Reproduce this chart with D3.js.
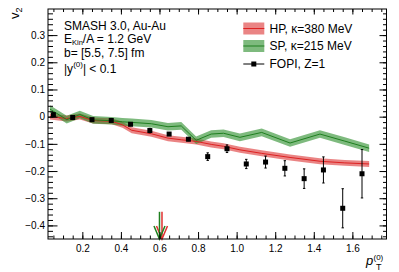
<!DOCTYPE html>
<html>
<head>
<meta charset="utf-8">
<script src="https://cdn.jsdelivr.net/npm/d3@7"></script>
<style>
  body { margin: 0; background: #fff; }
  text { font-family: "Liberation Sans", Arial, sans-serif; fill: #000; }
</style>
</head>
<body>
<div id="chart"></div>
<script>
// FOPI data points (Z=1)
var fopiPt = [0.05, 0.15, 0.25, 0.35, 0.45, 0.55, 0.65, 0.75, 0.85, 0.95, 1.05, 1.15, 1.25, 1.35, 1.45, 1.55, 1.65];
var fopiV2 = [0.007, -0.003, -0.011, -0.014, -0.028, -0.051, -0.064, -0.083, -0.147, -0.118, -0.174, -0.167, -0.19, -0.228, -0.196, -0.337, -0.21];
var fopiErr = [0.008, 0.005, 0.004, 0.004, 0.005, 0.008, 0.005, 0.006, 0.014, 0.014, 0.017, 0.022, 0.028, 0.036, 0.048, 0.072, 0.089];

// SMASH bands
var bandPt = [0.032, 0.119, 0.187, 0.256, 0.352, 0.408, 0.456, 0.558, 0.644, 0.713, 0.79, 0.868, 0.932, 1.017, 1.13, 1.277, 1.432, 1.561, 1.687];
var hpV2 = [0.001, -0.007, 0.001, -0.014, -0.017, -0.03, -0.05, -0.063, -0.079, -0.085, -0.091, -0.102, -0.109, -0.122, -0.135, -0.15, -0.164, -0.17, -0.174];
var spV2 = [0.028, -0.011, 0.008, -0.012, -0.015, -0.019, -0.021, -0.026, -0.037, -0.034, -0.087, -0.064, -0.061, -0.076, -0.058, -0.097, -0.064, -0.09, -0.116];
var hpErr = 0.011, spErr = 0.014;

// mean pT arrows
var arrowPt = {hp: 0.613, sp: 0.6};

var yMajor = [-0.4, -0.3, -0.2, -0.1, 0, 0.1, 0.2, 0.3];
var xMajor = [0.2, 0.4, 0.6, 0.8, 1, 1.2, 1.4, 1.6];

var W = 399, H = 272;
var margin = {top: 9, right: 12.5, bottom: 33, left: 48};
var width = W - margin.left - margin.right,
    height = H - margin.top - margin.bottom;

var svg = d3.select("#chart").append("svg")
  .attr("width", W).attr("height", H);
var g = svg.append("g")
  .attr("transform", "translate(" + margin.left + "," + margin.top + ")");

var x = d3.scaleLinear().domain([0.022, 1.777]).range([0, width]);
var y = d3.scaleLinear().domain([-0.45, 0.396]).range([height, 0]);

var redLine = "#dd2222", redFill = "rgba(220,50,50,0.6)";
var greenLine = "#1f7f1f", greenFill = "rgba(40,140,40,0.6)";

// bands
function drawBand(vals, err, fill) {
  var pts = bandPt.map(function (p, i) { return {p: p, v: vals[i]}; });
  g.append("path").datum(pts)
    .attr("d", d3.area()
      .x(function (d) { return x(d.p); })
      .y0(function (d) { return y(d.v - err); })
      .y1(function (d) { return y(d.v + err); }))
    .attr("fill", fill).attr("stroke", "none");
  return pts;
}
var hpPts = drawBand(hpV2, hpErr, redFill);
var spPts = drawBand(spV2, spErr, greenFill);

var line = d3.line().x(function (d) { return x(d.p); }).y(function (d) { return y(d.v); });
g.append("path").datum(hpPts).attr("d", line)
  .attr("fill", "none").attr("stroke", redLine).attr("stroke-width", 1);
g.append("path").datum(spPts).attr("d", line)
  .attr("fill", "none").attr("stroke", greenLine).attr("stroke-width", 1);

// FOPI points with error bars
var fopi = fopiPt.map(function (p, i) { return {p: p, v: fopiV2[i], e: fopiErr[i]}; });
var pts = g.selectAll(".fopi").data(fopi).enter().append("g").attr("class", "fopi");
pts.append("line")
  .attr("x1", function (d) { return x(d.p); }).attr("x2", function (d) { return x(d.p); })
  .attr("y1", function (d) { return y(d.v - d.e); }).attr("y2", function (d) { return y(d.v + d.e); })
  .attr("stroke", "#000").attr("stroke-width", 1);
[-1, 1].forEach(function (s) {
  pts.append("line")
    .attr("x1", function (d) { return x(d.p) - 1.2; }).attr("x2", function (d) { return x(d.p) + 1.2; })
    .attr("y1", function (d) { return y(d.v + s * d.e); }).attr("y2", function (d) { return y(d.v + s * d.e); })
    .attr("stroke", "#000").attr("stroke-width", 1);
});
pts.append("rect")
  .attr("x", function (d) { return x(d.p) - 2.5; }).attr("y", function (d) { return y(d.v) - 2.5; })
  .attr("width", 5).attr("height", 5).attr("fill", "#000");

// arrows
function drawArrow(p, col) {
  var ax = x(p), yb = y(-0.45), yt = y(-0.35);
  g.append("line").attr("x1", ax).attr("x2", ax).attr("y1", yt).attr("y2", yb)
    .attr("stroke", col).attr("stroke-width", 1.5);
  g.append("path")
    .attr("d", "M" + (ax - 5.5) + "," + (yb - 13) + "L" + ax + "," + yb + "L" + (ax + 5.5) + "," + (yb - 13))
    .attr("fill", "none").attr("stroke", col).attr("stroke-width", 1.5);
}
drawArrow(arrowPt.hp, "#e03030");
drawArrow(arrowPt.sp, "#1f7f1f");

// axes
function fmt(d) { return d === 0 ? "0" : d3.format(".1f")(d); }
var yMinor = d3.range(-44, 40, 2).map(function (d) { return d / 100; });
var xMinor = d3.range(1, 36).map(function (d) { return d * 0.05; });

function ticks(axis, vals, len, fmtFn) {
  var a = g.append("g");
  axis === "left" && a.call(d3.axisLeft(y).tickValues(vals).tickSize(-len).tickSizeOuter(0).tickPadding(3).tickFormat(fmtFn || ""));
  axis === "right" && a.attr("transform", "translate(" + width + ",0)").call(d3.axisRight(y).tickValues(vals).tickSize(-len).tickSizeOuter(0).tickFormat(""));
  axis === "bottom" && a.attr("transform", "translate(0," + height + ")").call(d3.axisBottom(x).tickValues(vals).tickSize(-len).tickSizeOuter(0).tickPadding(6).tickFormat(fmtFn || ""));
  axis === "top" && a.call(d3.axisTop(x).tickValues(vals).tickSize(-len).tickSizeOuter(0).tickFormat(""));
  a.select(".domain").remove();
  a.selectAll("line").attr("stroke", "#000");
  a.selectAll("text").style("font-size", "10px").style("font-family", "'Liberation Sans', Arial, sans-serif").attr("fill", "#000");
  return a;
}
ticks("left", yMinor, 5);
ticks("left", yMajor, 9.5, fmt);
ticks("right", yMinor, 3.5);
ticks("right", yMajor, 7);
ticks("bottom", xMinor.filter(function (d) { return d < 1.77; }), 3.5);
ticks("bottom", xMajor, 7, fmt);
ticks("top", xMinor.filter(function (d) { return d < 1.77; }), 3);
ticks("top", xMajor, 5.5);

g.append("rect").attr("width", width).attr("height", height)
  .attr("fill", "none").attr("stroke", "#000").attr("stroke-width", 1);

// axis titles
var yl = svg.append("text").attr("transform", "translate(19,19) rotate(-90)")
  .style("font-size", "13px");
yl.append("tspan").text("v");
yl.append("tspan").text("2").style("font-size", "9px").attr("dy", 3);

svg.append("text").attr("x", 366).attr("y", 265).style("font-size", "13px")
  .style("font-style", "italic").text("p");
svg.append("text").attr("x", 373.5).attr("y", 259.5).style("font-size", "8px").text("(0)");
svg.append("text").attr("x", 376).attr("y", 270).style("font-size", "9px").text("T");

// info text
var info = svg.append("g").style("font-size", "12px");
info.append("text").attr("x", 64).attr("y", 29.5).text("SMASH 3.0, Au-Au");
var t2 = info.append("text").attr("x", 64).attr("y", 43);
t2.append("tspan").text("E");
t2.append("tspan").text("Kin").style("font-size", "7.5px").attr("dy", 2);
t2.append("tspan").text("/A = 1.2 GeV").attr("dy", -2);
info.append("text").attr("x", 64).attr("y", 56.5).text("b= [5.5, 7.5] fm");
var t4 = info.append("text").attr("x", 64).attr("y", 72.5);
t4.append("tspan").text("|y");
t4.append("tspan").text("(0)").style("font-size", "8px").attr("dy", -6);
t4.append("tspan").text("| < 0.1").attr("dy", 6);

// legend
var legend = [
  {label: "HP, \u03ba=380 MeV", fill: redFill, stroke: redLine, cy: 28.5},
  {label: "SP, \u03ba=215 MeV", fill: greenFill, stroke: greenLine, cy: 46},
  {label: "FOPI, Z=1", fill: null, stroke: "#000", cy: 64}
];
var lg = svg.selectAll(".lg").data(legend).enter().append("g").attr("class", "lg");
lg.filter(function (d) { return d.fill; }).append("rect")
  .attr("x", 243.3).attr("width", 21).attr("y", function (d) { return d.cy - 6; }).attr("height", 12)
  .attr("fill", function (d) { return d.fill; });
lg.append("line").attr("x1", 243.3).attr("x2", 264.3)
  .attr("y1", function (d) { return d.cy; }).attr("y2", function (d) { return d.cy; })
  .attr("stroke", function (d) { return d.stroke; }).attr("stroke-width", 1);
lg.filter(function (d) { return !d.fill; }).append("rect")
  .attr("x", 251.3).attr("y", function (d) { return d.cy - 2.5; }).attr("width", 5).attr("height", 5).attr("fill", "#000");
lg.append("text").attr("x", 269.5).attr("y", function (d) { return d.cy + 4.2; })
  .style("font-size", "12px").text(function (d) { return d.label; });
</script>
</body>
</html>
